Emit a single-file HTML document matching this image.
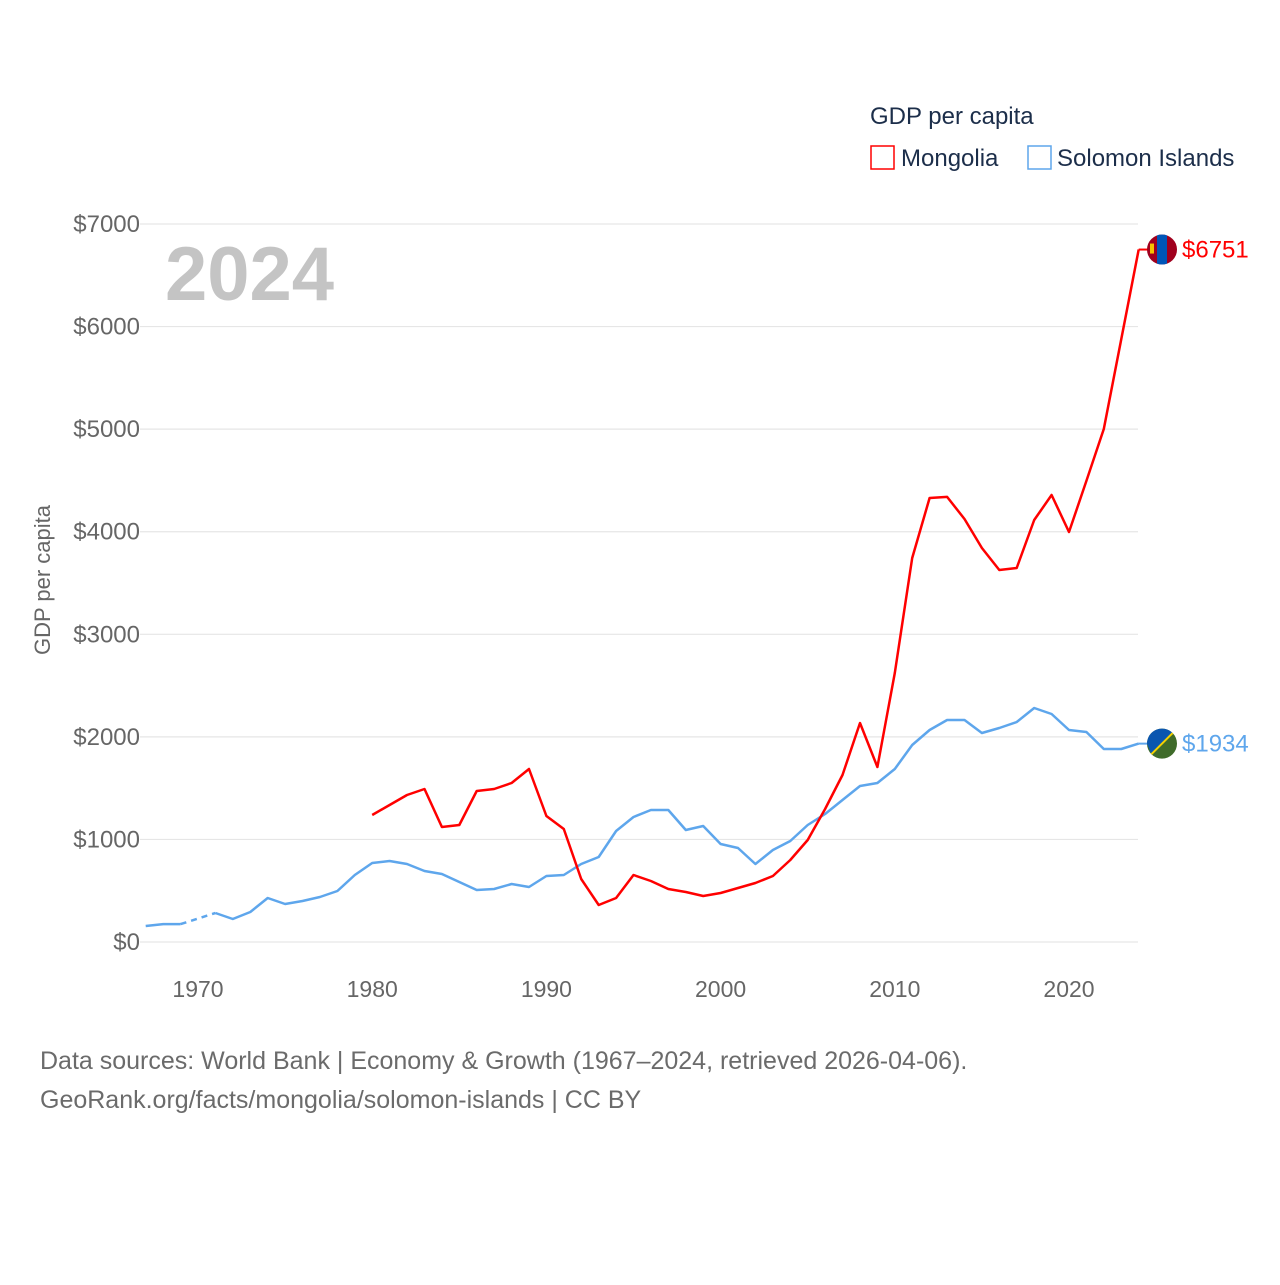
<!DOCTYPE html>
<html><head><meta charset="utf-8"><style>
body{margin:0;background:#fff;width:1280px;height:1280px;overflow:hidden;font-family:"Liberation Sans",sans-serif}
</style></head><body>
<svg id="chart" width="1280" height="1280" xmlns="http://www.w3.org/2000/svg" font-family="Liberation Sans, sans-serif">
<text x="870" y="124" font-size="24" fill="#1c2e4a">GDP per capita</text>
<g><rect x="871" y="146" width="23" height="23" fill="none" stroke="#ff0000" stroke-width="1.5"/><text x="901" y="166" font-size="24" fill="#1c2e4a">Mongolia</text></g>
<g><rect x="1028" y="146" width="23" height="23" fill="none" stroke="#5ea6ec" stroke-width="1.5"/><text x="1057" y="166" font-size="24" fill="#1c2e4a">Solomon Islands</text></g>
<text x="165" y="300" font-size="76" font-weight="bold" fill="#c4c4c4">2024</text>
<text transform="translate(50,580) rotate(-90)" text-anchor="middle" font-size="22" fill="#666">GDP per capita</text>
<g id="grid"></g><g id="lines"></g>
<text x="40" y="1069" font-size="25" fill="#6b6b6b">Data sources: World Bank | Economy &amp; Growth (1967–2024, retrieved 2026-04-06).</text>
<text x="40" y="1108" font-size="25" fill="#6b6b6b">GeoRank.org/facts/mongolia/solomon-islands | CC BY</text>
</svg>
<script>
const years=[];for(let y=1967;y<=2024;y++)years.push(y);
const solomon=[156,175,175,null,283,224,292,429,370,400,439,497,653,770,790,760,692,663,585,507,517,565,536,643,653,760,829,1082,1219,1287,1287,1092,1131,955,916,760,897,985,1141,1248,1384,1521,1550,1687,1921,2067,2164,2164,2038,2086,2145,2281,2223,2067,2047,1882,1882,1934];
const mongoliaStart=1980;
const mongolia=[1238,1336,1433,1492,1121,1141,1472,1492,1550,1687,1228,1102,614,361,429,653,595,517,487,448,478,526,575,643,799,994,1297,1628,2135,1706,2623,3744,4329,4339,4124,3841,3627,3646,4114,4358,3997,4495,5001,5879,6751];
const yTicks=[0,1000,2000,3000,4000,5000,6000,7000];
const xTicks=[1970,1980,1990,2000,2010,2020];
const NS='http://www.w3.org/2000/svg';
const X=y=>198+(y-1970)*17.42;
const Y=v=>942-v*0.10257;
const grid=document.getElementById('grid'),lines=document.getElementById('lines');
function mk(t,a,p){const e=document.createElementNS(NS,t);for(const k in a)e.setAttribute(k,a[k]);p.appendChild(e);return e;}
yTicks.forEach(v=>{
 const l=mk('line',{x1:140,x2:1138,y1:Y(v),y2:Y(v),stroke:'#e6e6e6','stroke-width':1.2},grid);
 
 
 const t=mk('text',{x:140,y:Y(v)+8,'text-anchor':'end','font-size':24,fill:'#666'},grid);t.textContent='$'+v;
 
 
});
xTicks.forEach(v=>{
 const t=mk('text',{x:X(v),y:997,'text-anchor':'middle','font-size':23,fill:'#666'},grid);t.textContent=v;
 
 
});
function path(pts){return pts.map((p,i)=>(i?'L':'M')+p[0].toFixed(1)+','+p[1].toFixed(1)).join('');}
let segs=[],cur=[],prev=null;
years.forEach((yr,i)=>{const v=solomon[i];if(v==null){if(cur.length)segs.push(cur);cur=[];return;}
 const p=[X(yr),Y(v)];
 if(!cur.length&&prev){const d=mk('path',{d:path([prev,p]),fill:'none',stroke:'#5ea6ec','stroke-width':2.5,'stroke-dasharray':'6,5'},lines);
  
  }
 cur.push(p);prev=p;});
if(cur.length)segs.push(cur);
segs.forEach(s=>{const e=mk('path',{d:path(s),fill:'none',stroke:'#5ea6ec','stroke-width':2.5,'stroke-linejoin':'round'},lines);
 
 });
const mp=mongolia.map((v,i)=>[X(mongoliaStart+i),Y(v)]);
const m=mk('path',{d:path(mp),fill:'none',stroke:'#ff0000','stroke-width':2.5,'stroke-linejoin':'round'},lines);


const mEnd=mp[mp.length-1];
const sEnd=[X(2024),Y(solomon[solomon.length-1])];
mk('line',{x1:mEnd[0],y1:mEnd[1],x2:mEnd[0]+10,y2:mEnd[1],stroke:'#ff0000','stroke-width':2},lines);
mk('line',{x1:sEnd[0],y1:sEnd[1],x2:sEnd[0]+10,y2:sEnd[1],stroke:'#5ea6ec','stroke-width':2},lines);
const fm=mk('g',{},lines);


const cx=1162;
const cp=mk('clipPath',{id:'cm'},fm);
mk('circle',{cx:cx,cy:mEnd[1],r:15},cp);
mk('rect',{x:cx-15,y:mEnd[1]-15,width:30,height:30,fill:'#a0001e','clip-path':'url(#cm)'},fm);
mk('rect',{x:cx-5,y:mEnd[1]-15,width:10,height:30,fill:'#0056b8','clip-path':'url(#cm)'},fm);
mk('rect',{x:cx-12,y:mEnd[1]-6,width:4,height:10,fill:'#f5c400'},fm);
const fs=mk('g',{},lines);


mk('circle',{cx:cx,cy:sEnd[1],r:15,fill:'#3f6b2a'},fs);
mk('path',{d:`M${cx-15},${sEnd[1]} A15,15 0 0 1 ${cx+10.6},${sEnd[1]-10.6} L${cx-10.6},${sEnd[1]+10.6} Z`,fill:'#0a56b0'},fs);
mk('line',{x1:cx+10.6,y1:sEnd[1]-10.6,x2:cx-10.6,y2:sEnd[1]+10.6,stroke:'#f5d200','stroke-width':2},fs);
const lm=mk('text',{x:1182,y:mEnd[1]+8,'font-size':24,fill:'#ff0000'},lines);lm.textContent='$'+mongolia[mongolia.length-1];


const ls=mk('text',{x:1182,y:sEnd[1]+8,'font-size':24,fill:'#5ea6ec'},lines);ls.textContent='$'+solomon[solomon.length-1];


</script>
</body></html>
